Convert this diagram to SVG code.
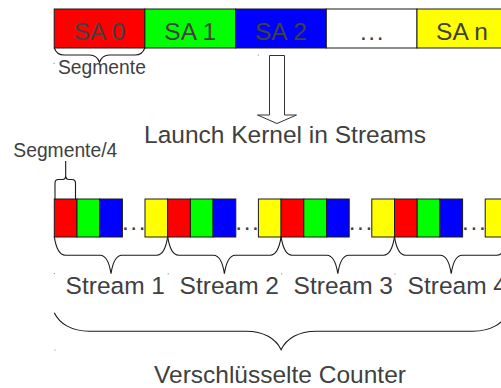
<svg xmlns="http://www.w3.org/2000/svg" width="501" height="388" viewBox="0 0 501 388">
  <style>
    .cell { stroke: #1a1a1a; stroke-width: 1; }
    .r { fill: #ff0000; }
    .g { fill: #00ff00; }
    .b { fill: #0000ff; }
    .y { fill: #ffff00; }
    .w { fill: #ffffff; }
    .lbl { font-family: "Liberation Sans", Arial, sans-serif; font-size: 24.5px; fill: #404040; text-anchor: middle; }
    .small { font-family: "Liberation Sans", Arial, sans-serif; font-size: 19.3px; fill: #404040; }
    .dots { font-family: "Liberation Sans", Arial, sans-serif; font-size: 24.5px; fill: #404040; text-anchor: middle; letter-spacing: 1.6px; }
    .brace { fill: none; stroke: #1a1a1a; stroke-width: 1.1; }
    .speck { fill: #777; }
  </style>
  <defs>
    <!-- curly brace spanning one stream (width 113.4), opening towards the cells -->
    <path id="streamBrace" d="M0,0 C1.65,11.1 5.5,18.5 11,18.5 L45.7,18.5 C51.2,18.5 55.05,25.9 56.7,37 C58.35,25.9 62.2,18.5 67.7,18.5 L102.4,18.5 C107.9,18.5 111.75,11.1 113.4,0"/>
    <!-- one stream block: yellow, red, green, blue quarter segments -->
    <g id="quad">
      <rect class="cell y" x="-22.7" y="199" width="22.7" height="38"/>
      <rect class="cell r" x="0" y="199" width="22.7" height="38"/>
      <rect class="cell g" x="22.7" y="199" width="22.7" height="38"/>
      <rect class="cell b" x="45.4" y="199" width="22.7" height="38"/>
    </g>
  </defs>

  <rect width="501" height="388" fill="#ffffff"/>

  <!-- input buffer of segments -->
  <g id="segments">
    <rect class="cell r" x="54.2" y="9" width="90.7" height="39"/>
    <rect class="cell g" x="144.9" y="9" width="90.7" height="39"/>
    <rect class="cell b" x="235.6" y="9" width="90.7" height="39"/>
    <rect class="cell w" x="326.3" y="9" width="90.7" height="39"/>
    <rect class="cell y" x="417" y="9" width="90.7" height="39"/>
    <text class="lbl" x="99.5" y="39.5">SA 0</text>
    <text class="lbl" x="190.2" y="39.5">SA 1</text>
    <text class="lbl" x="280.9" y="39.5">SA 2</text>
    <text class="dots" x="372.5" y="40">...</text>
    <text class="lbl" x="462" y="39.5">SA n</text>
  </g>

  <g id="segment-label">
    <path class="brace" d="M54.2,47.7 C55.7,52.1 59.2,55 64.2,55 L89.5,55 C94.5,55 98,57.9 99.5,62.3 C101,57.9 104.5,55 109.5,55 L134.9,55 C139.9,55 143.4,52.1 144.9,47.7"/>
    <text class="small" x="58" y="74">Segmente</text>
  </g>

  <!-- launch step -->
  <g id="launch">
    <polygon points="269.5,55.5 284.5,55.5 284.5,115 296.5,115 277,123.5 257.5,115 269.5,115" fill="#ffffff" stroke="#333" stroke-width="1"/>
    <text class="lbl" x="285" y="143">Launch Kernel in Streams</text>
  </g>

  <!-- quarter segments distributed over streams -->
  <g id="stream-row">
    <rect class="cell r" x="54.3" y="199" width="22.7" height="38"/>
    <rect class="cell g" x="77" y="199" width="22.7" height="38"/>
    <rect class="cell b" x="99.7" y="199" width="22.7" height="38"/>
    <use href="#quad" x="167.7"/>
    <use href="#quad" x="281.1"/>
    <use href="#quad" x="394.5"/>
    <rect class="cell y" x="485.2" y="199" width="22.7" height="38"/>
    <text class="dots" x="134.5" y="229.5">...</text>
    <text class="dots" x="247.9" y="229.5">...</text>
    <text class="dots" x="361.3" y="229.5">...</text>
    <text class="dots" x="474.7" y="229.5">...</text>
  </g>

  <g id="quarter-label">
    <path class="brace" d="M55,199.5 L55,183 Q55,179.5 58.5,179.5 L62.5,179.5 Q65.7,179.5 65.7,175.5 L65.7,161 M65.7,175.5 Q65.7,179.5 69,179.5 L72,179.5 Q75.5,179.5 75.5,183 L75.5,199.5"/>
    <text class="small" x="13.3" y="157">Segmente/4</text>
  </g>

  <g id="connectors">
    <use class="brace" href="#streamBrace" x="54.3" y="236.7"/>
    <use class="brace" href="#streamBrace" x="167.7" y="236.7"/>
    <use class="brace" href="#streamBrace" x="281.1" y="236.7"/>
    <use class="brace" href="#streamBrace" x="394.5" y="236.7"/>
    <path class="brace" d="M54.3,312.7 C59.55,323.8 71.8,331.2 89.3,331.2 L246.1,331.2 C263.6,331.2 275.85,338.6 281.1,349.7 C286.35,338.6 298.6,331.2 316.1,331.2 L472.9,331.2 C490.4,331.2 502.65,323.8 507.9,312.7"/>
  </g>

  <g id="stream-labels">
    <text class="lbl" x="115.3" y="294">Stream 1</text>
    <text class="lbl" x="229.3" y="294">Stream 2</text>
    <text class="lbl" x="343.3" y="294">Stream 3</text>
    <text class="lbl" x="457.3" y="294">Stream 4</text>
  </g>

  <g id="result">
    <text class="lbl" x="280" y="382.5">Verschlüsselte Counter</text>
  </g>

  <!-- anchor specks -->
  <g id="anchors">
    <circle class="speck" cx="54" cy="63.3" r="0.6"/>
    <circle class="speck" cx="258.3" cy="55" r="0.6"/>
    <circle class="speck" cx="54.3" cy="273.5" r="0.6"/>
    <circle class="speck" cx="168.2" cy="273.8" r="0.6"/>
    <circle class="speck" cx="281.7" cy="273.8" r="0.6"/>
    <circle class="speck" cx="395" cy="274" r="0.6"/>
    <circle class="speck" cx="55" cy="350" r="0.6"/>
  </g>
</svg>
